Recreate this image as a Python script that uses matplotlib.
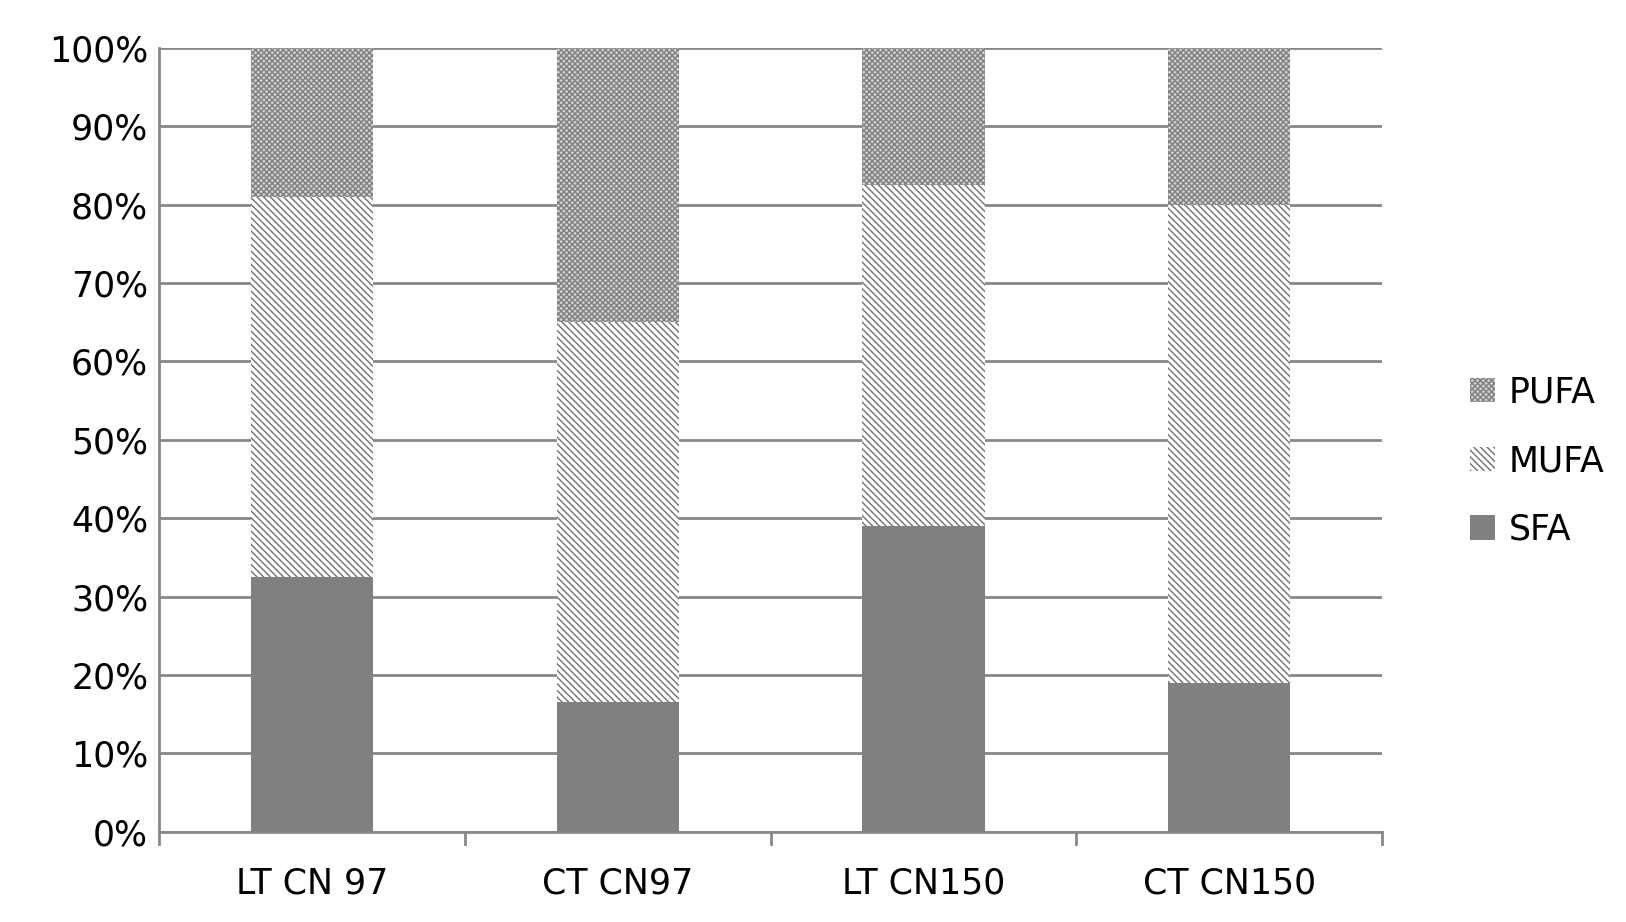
import numpy as np
import matplotlib.pyplot as plt
import matplotlib as mpl

categories = ['LT CN 97', 'CT CN97', 'LT CN150', 'CT CN150']
sfa = [32.5, 16.5, 39.0, 19.0]
mufa = [48.5, 48.5, 43.5, 61.0]
pufa = [19.0, 35.0, 17.5, 20.0]

mpl.rcParams['font.family'] = ['DejaVu Sans']
mpl.rcParams['hatch.linewidth'] = 1.0

fig = plt.figure(figsize=(16.26, 9.22), dpi=100)
ax = fig.add_axes([0.098, 0.098, 0.752, 0.85])

x = np.arange(len(categories))
w = 0.4
ax.bar(x, sfa, w, color='#808080', zorder=3, label='SFA')
ax.bar(x, mufa, w, bottom=sfa, color='white', edgecolor='#707070', hatch='\\\\\\\\\\', linewidth=0, zorder=3, label='MUFA')
bot2 = np.array(sfa) + np.array(mufa)
ax.bar(x, pufa, w, bottom=bot2, color='#d0d0d0', edgecolor='#808080', hatch='xxxxxx', linewidth=0, zorder=3, label='PUFA')

ax.set_xlim(-0.5, 3.5)
ax.set_ylim(0, 100)
ax.set_yticks(np.arange(0, 101, 10))
ax.set_yticklabels([f'{v}%' for v in range(0, 101, 10)], fontsize=25)
ax.yaxis.grid(True, color='#888888', linewidth=2, zorder=0)
ax.set_xticks(x)
ax.set_xticklabels(categories, fontsize=25)
ax.tick_params(axis='x', length=0, pad=25)
ax.tick_params(axis='y', length=0, pad=8)
for b in np.arange(-0.5, 3.6, 1):
    ax.plot([b, b], [0, -1.6], color='#888888', lw=2, clip_on=False)
for s in ['top', 'right']:
    ax.spines[s].set_visible(False)
ax.spines['left'].set_color('#888888')
ax.spines['left'].set_linewidth(2)
ax.spines['bottom'].set_color('#888888')
ax.spines['bottom'].set_linewidth(2)

h, l = ax.get_legend_handles_labels()
fig.legend(h[::-1], l[::-1], loc='center left', bbox_to_anchor=(0.885, 0.5), frameon=False,
           fontsize=25, handlelength=0.7, handleheight=0.7, labelspacing=1.0, handletextpad=0.4)

fig.savefig('out.png', dpi=100)
